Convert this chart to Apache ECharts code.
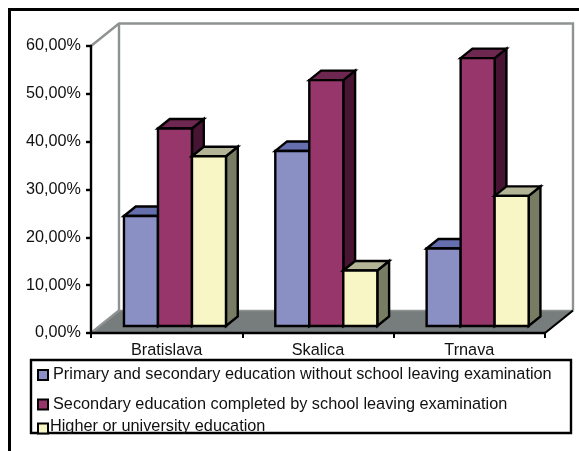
<!DOCTYPE html>
<html><head><meta charset="utf-8">
<style>html,body{margin:0;padding:0;background:#fff}#c{width:579px;height:451px}</style>
<script src="https://cdn.jsdelivr.net/npm/echarts@6/dist/echarts.min.js"></script>
</head><body><div id="c"></div>
<script>
const categories = ['Bratislava', 'Skalica', 'Trnava'];
const primary = [23.0, 36.6, 16.2];
const secondary = [41.3, 51.4, 56.0];
const higher = [35.5, 11.6, 27.2];
const names = [
  'Primary and secondary education without school leaving examination',
  'Secondary education completed by school leaving examination',
  'Higher or university education'
];
const tickMax = 60, tickStep = 10;
const FONT = '"Liberation Sans", Arial, sans-serif';
const palette = [
  {front:'#8a8fc4', top:'#666fad', side:'#5e6590'},
  {front:'#96366b', top:'#6e2750', side:'#471433'},
  {front:'#f8f6c5', top:'#b3b596', side:'#787c62'}
];
const WALL = {dx:28, dy:-22.5};
const PLANE = {dx:8.3, dy:-7};
const DEPTH = {dx:11.8, dy:-9.5};
const BAR_FRAC = 0.2247;

function renderWalls(params, api) {
  const c = params.coordSys;
  const x0 = c.x, x1 = c.x + c.width, y0 = c.y, y1 = c.y + c.height;
  const bx0 = x0 + WALL.dx, bx1 = x1 + WALL.dx, by0 = y0 + WALL.dy, by1 = y1 + WALL.dy;
  const gray = {fill:'none', stroke:'#8e9292', lineWidth:2.4};
  return {type:'group', children:[
    {type:'polygon', shape:{points:[[x0,y1],[bx0,by1],[bx1,by1],[x1,y1]]}, style:{fill:'#777c7c', stroke:'none'}},
    {type:'polyline', shape:{points:[[x0,y0],[bx0,by0],[bx1,by0],[bx1,by1]]}, style:gray},
    {type:'polyline', shape:{points:[[bx0,by0],[bx0,by1],[x0,y1]]}, style:gray},
    {type:'line', shape:{x1:bx0,y1:by1,x2:bx1,y2:by1}, style:{stroke:'#8e9292', lineWidth:1.5}},
    {type:'line', shape:{x1:x1,y1:y1,x2:bx1,y2:by1}, style:{stroke:'#000', lineWidth:2.2}}
  ]};
}
function barRenderer(si) {
  return function(params, api) {
    const cat = api.value(0), val = api.value(1);
    const top = api.coord([cat, val]), base = api.coord([cat, 0]);
    const band = api.size([1, 0])[0], w = band * BAR_FRAC;
    const l = top[0] - 1.5 * w + si * w + PLANE.dx, r = l + w;
    const t = top[1] + PLANE.dy, b = base[1] + PLANE.dy;
    const d = DEPTH, p = palette[si];
    const edge = {stroke:'#000', lineWidth:2.4, lineJoin:'miter'};
    return {type:'group', children:[
      {type:'polygon', shape:{points:[[r,t],[r+d.dx,t+d.dy],[r+d.dx,b+d.dy],[r,b]]}, style:{fill:p.side, ...edge}},
      {type:'polygon', shape:{points:[[l,t],[l+d.dx,t+d.dy],[r+d.dx,t+d.dy],[r,t]]}, style:{fill:p.top, ...edge}},
      {type:'rect', shape:{x:l,y:t,width:w,height:b-t}, style:{fill:p.front, ...edge}}
    ]};
  };
}
const toData = vals => vals.map((v, i) => [i, v]);
const seriesValues = [primary, secondary, higher];
const legendTops = [367, 396.5, 418.5];
const chart = echarts.init(document.getElementById('c'), null, {renderer:'canvas'});
const legendText = {color:'#111', fontFamily:FONT, fontSize:16.3};
chart.setOption({
  animation:false,
  backgroundColor:'#fff',
  grid:{left:91, top:46, width:454, height:287},
  xAxis:{type:'category', data:categories, z:3,
    axisLine:{lineStyle:{color:'#000', width:2.4}},
    axisTick:{show:true, length:5, alignWithLabel:false, lineStyle:{color:'#000', width:2}},
    axisLabel:{color:'#111', fontFamily:FONT, fontSize:16.3, margin:10}, splitLine:{show:false}},
  yAxis:{type:'value', min:0, max:tickMax, interval:tickStep, z:3,
    axisLine:{show:true, lineStyle:{color:'#000', width:2.4}},
    axisTick:{show:true, length:5, lineStyle:{color:'#000', width:2.4}},
    axisLabel:{color:'#111', fontFamily:FONT, fontSize:16.2, margin:10, padding:[2,0,0,0],
      formatter:v => v.toFixed(2).replace('.', ',') + '%'},
    splitLine:{show:false}},
  legend:names.map((n, i) => ({
    data:[n], orient:'vertical', left:37, top:legendTops[i], padding:0,
    itemWidth:10, itemHeight:10, icon:'rect', selectedMode:false,
    formatter: i === 2 ? '{a|{name}}' : '{name}',
    textStyle:{...legendText, padding: i === 2 ? [0,0,0,-3] : 0,
      rich:{a:{...legendText, padding:[0,0,4,0]}}}
  })),
  graphic:[
    {type:'polyline', silent:true, z:10, shape:{points:[[9.5,600],[9.5,9.5],[700,9.5]]}, style:{fill:'none', stroke:'#000', lineWidth:3}},
    {type:'rect', silent:true, z:-1, shape:{x:31,y:360,width:540,height:73}, style:{fill:'#fff', stroke:'#000', lineWidth:2.4}}
  ],
  series:[
    {type:'custom', name:'walls', z:0, data:[[0,0]], renderItem:renderWalls, encode:{x:0,y:1}, silent:true},
    ...names.map((n, i) => ({
      type:'custom', name:n, z:2, data:toData(seriesValues[i]), renderItem:barRenderer(i),
      encode:{x:0,y:1},
      itemStyle:{color:palette[i].front, borderColor:'#000', borderWidth:1.8}
    }))
  ]
});
</script></body></html>
